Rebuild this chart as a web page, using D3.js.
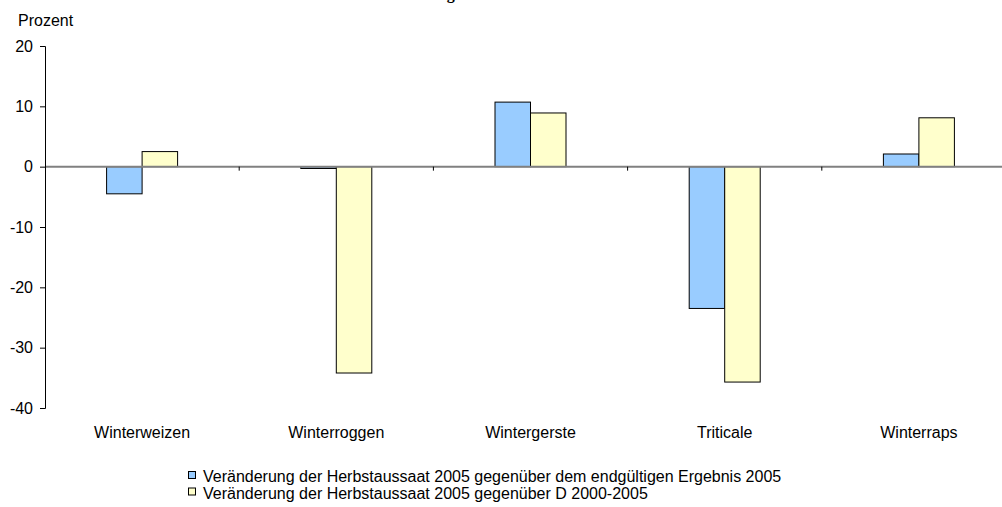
<!DOCTYPE html>
<html>
<head>
<meta charset="utf-8">
<script src="https://cdn.jsdelivr.net/npm/d3@7"></script>
<style>
  body { margin: 0; background: #fff; }
  svg { display: block; font-family: "Liberation Sans", Arial, sans-serif; }
</style>
</head>
<body>
<div id="chart"></div>
<script>
// chart data
var categories = ["Winterweizen", "Winterroggen", "Wintergerste", "Triticale", "Winterraps"];
var seriesNames = [
  "Veränderung der Herbstaussaat 2005 gegenüber dem endgültigen Ergebnis 2005",
  "Veränderung der Herbstaussaat 2005 gegenüber D 2000-2005"
];
var vsErgebnis = [-4.5, -0.3, 10.7, -23.5, 2.1];
var vsSchnitt = [2.5, -34.2, 8.9, -35.7, 8.1];
var yTicks = [20, 10, 0, -10, -20, -30, -40];
var colors = ["#99ccff", "#ffffcc"];

var width = 1002, height = 507;
var margin = {top: 46, left: 45, right: 1016, bottom: 408};
var fs = 16;

var svg = d3.select("#chart").append("svg").attr("width", width).attr("height", height);

// title, cut off at the top edge like in the source
svg.append("text")
  .attr("x", 500).attr("y", -1)
  .attr("text-anchor", "middle")
  .attr("font-family", "'Liberation Serif', 'Times New Roman', serif")
  .attr("font-weight", "bold").attr("font-size", 16)
  .text("Veränderungen der Herbstaussaat 2005");

var x = d3.scaleBand().domain(categories).range([margin.left, margin.right]);
var y = d3.scaleLinear().domain([-40, 20]).range([margin.bottom, margin.top]);

var rows = categories.map(function(c, i) { return {cat: c, vals: [vsErgebnis[i], vsSchnitt[i]]}; });
var barW = 35.5;

// bars
rows.forEach(function(r) {
  var cx = x(r.cat) + x.bandwidth() / 2;
  r.vals.forEach(function(v, j) {
    svg.append("rect")
      .attr("x", cx - barW + j * barW)
      .attr("y", y(Math.max(0, v)))
      .attr("width", barW)
      .attr("height", Math.abs(y(v) - y(0)))
      .attr("fill", colors[j])
      .attr("stroke", "#000").attr("stroke-width", 1);
  });
});

// zero line
svg.append("line")
  .attr("x1", margin.left).attr("x2", margin.right)
  .attr("y1", y(0)).attr("y2", y(0))
  .attr("stroke", "#808080").attr("stroke-width", 2);

// category ticks on zero line
categories.slice(1).forEach(function(c) {
  svg.append("line")
    .attr("x1", x(c)).attr("x2", x(c))
    .attr("y1", y(0)).attr("y2", y(0) + 4)
    .attr("stroke", "#000");
});

// y axis
var yAxis = svg.append("g")
  .attr("transform", "translate(" + margin.left + ",0)")
  .call(d3.axisLeft(y).tickValues(yTicks).tickSize(5).tickPadding(7)
    .tickFormat(function(d) { return String(d); }));
yAxis.select(".domain").attr("stroke", "#000");
yAxis.selectAll("text").attr("font-size", fs).attr("fill", "#000")
  .attr("font-family", "'Liberation Sans', Arial, sans-serif");

svg.append("text").attr("x", 18).attr("y", 26)
  .attr("font-size", fs).text("Prozent");

// category labels
svg.selectAll(".cat").data(categories).enter().append("text")
  .attr("class", "cat")
  .attr("x", function(d) { return x(d) + x.bandwidth() / 2; })
  .attr("y", 438)
  .attr("text-anchor", "middle")
  .attr("font-size", fs)
  .text(function(d) { return d; });

// legend
seriesNames.forEach(function(n, i) {
  var base = 482 + i * 16.5;
  svg.append("rect")
    .attr("x", 188.5).attr("y", base - 10.5)
    .attr("width", 7).attr("height", 7)
    .attr("fill", colors[i]).attr("stroke", "#000");
  svg.append("text")
    .attr("x", 203).attr("y", base)
    .attr("font-size", fs)
    .text(n);
});
</script>
</body>
</html>
